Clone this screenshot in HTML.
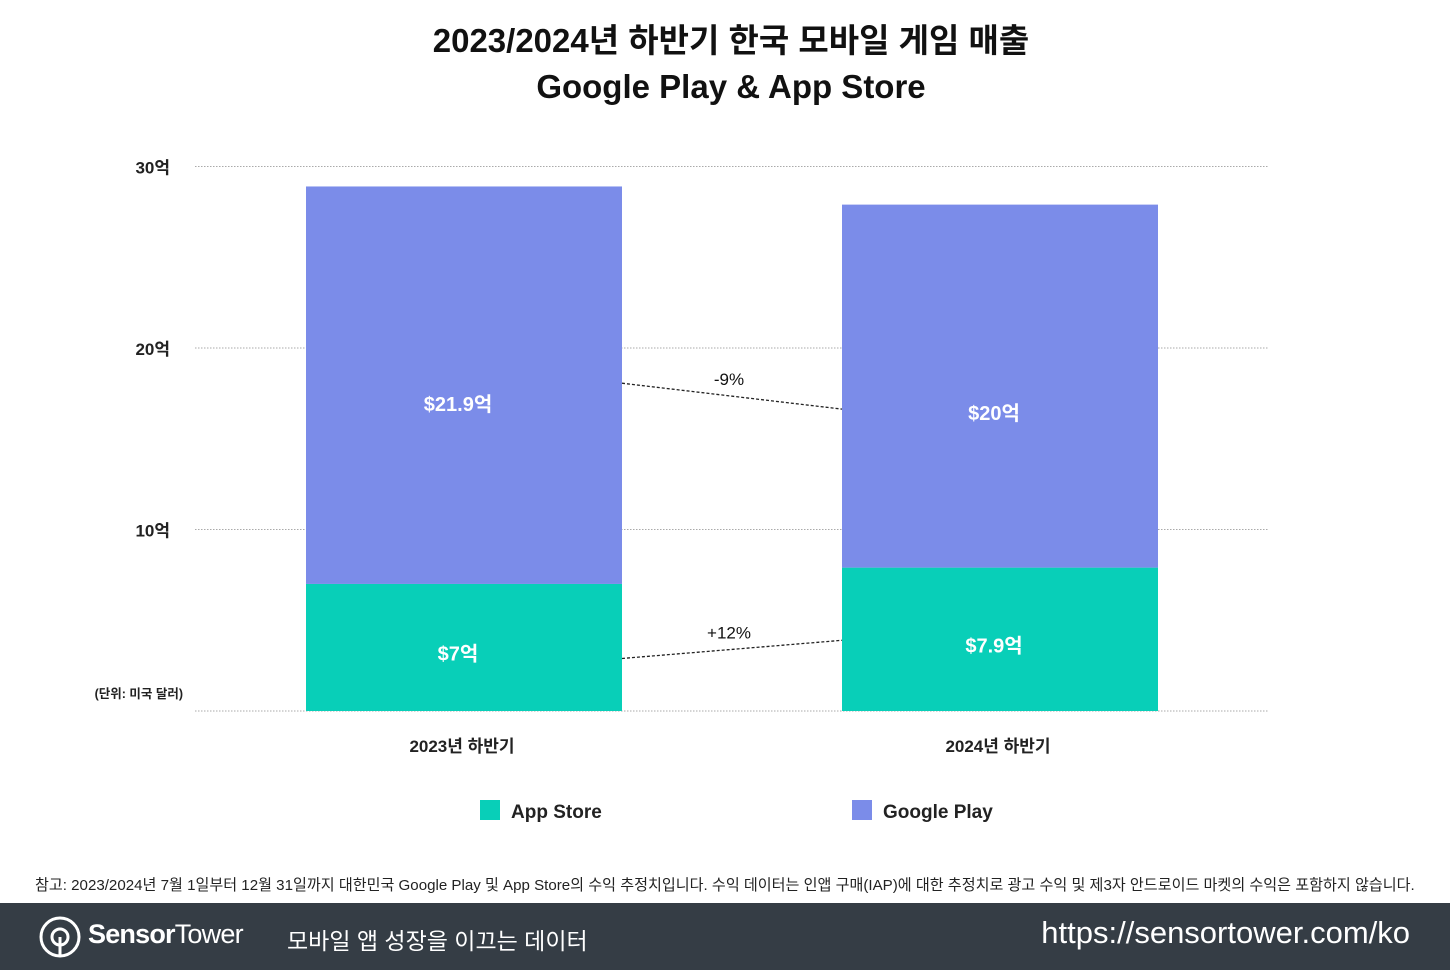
<!DOCTYPE html>
<html><head><meta charset="utf-8">
<style>
body{margin:0;width:1450px;height:970px;background:#fff;overflow:hidden;font-family:"Liberation Sans","Noto Sans CJK KR",sans-serif;}
#wrap{position:relative;width:1450px;height:970px;}
.t{position:absolute;white-space:nowrap;}
</style></head><body>
<div id="wrap">
<div class="t" style="left:0;width:1462px;text-align:center;top:18px;font-size:33px;font-weight:bold;line-height:46px;color:#111;">2023/2024년 하반기 한국 모바일 게임 매출<br>Google Play &amp; App Store</div>
<svg id="chart" width="1450" height="860" style="position:absolute;left:0;top:0"></svg>
<div class="t" style="left:35px;top:873px;font-size:15.1px;color:#222;">참고: 2023/2024년 7월 1일부터 12월 31일까지 대한민국 Google Play 및 App Store의 수익 추정치입니다. 수익 데이터는 인앱 구매(IAP)에 대한 추정치로 광고 수익 및 제3자 안드로이드 마켓의 수익은 포함하지 않습니다.</div>
<div style="position:absolute;left:0;top:903px;width:1450px;height:67px;background:#353d45;">
<svg width="44" height="44" style="position:absolute;left:38px;top:12px"><circle cx="22" cy="22" r="19" fill="none" stroke="#fff" stroke-width="3"/><circle cx="22" cy="22" r="8" fill="none" stroke="#fff" stroke-width="3"/><line x1="22" y1="22" x2="22" y2="41" stroke="#fff" stroke-width="3"/></svg>
<div class="t" style="left:88px;top:16px;font-size:27px;color:#fff;letter-spacing:-0.8px;"><b>Sensor</b>Tower</div>
<div class="t" style="left:287px;top:19px;font-size:23px;color:#fff;">모바일 앱 성장을 이끄는 데이터</div>
<div class="t" style="left:1030px;width:380px;text-align:right;top:12px;font-size:31px;color:#fff;">https://sensortower.com/ko</div>
</div>
</div>
<script>
const categories=["2023년 하반기","2024년 하반기"];
const appStore=[7,7.9];
const googlePlay=[21.9,20];
const appLabels=["$7억","$7.9억"];
const gpLabels=["$21.9억","$20억"];
const changes=["+12%","-9%"];
const ticks=[10,20,30];
const tickLabels=["10억","20억","30억"];
const NS="http://www.w3.org/2000/svg";
const svg=document.getElementById('chart');
const y0=711,pxPer=18.15;
const y=v=>y0-v*pxPer;
const bx=[306,842],bw=316;
function mk(t,a){const e=document.createElementNS(NS,t);for(const k in a)e.setAttribute(k,a[k]);svg.appendChild(e);return e;}
function txt(s,a){const e=mk('text',a);e.textContent=s;return e;}
ticks.concat([0]).forEach((v,i)=>{
 const l=mk('line',{x1:195,x2:1268,y1:y(v),y2:y(v),stroke:'#aaa','stroke-dasharray':'1.5,1.5','stroke-width':1});
 
});
ticks.forEach((v,i)=>{
 const t=txt(tickLabels[i],{x:170,y:y(v)+7,'text-anchor':'end','font-size':17,'font-weight':'bold',fill:'#222'});
 
});
const u=txt('(단위: 미국 달러)',{x:183,y:698,'text-anchor':'end','font-size':12.5,'font-weight':'bold',fill:'#222'});

const gpLabelY=[],appLabelY=[];
categories.forEach((c,i)=>{
 const a=mk('rect',{x:bx[i],width:bw,y:y(appStore[i]),height:appStore[i]*pxPer,fill:'#08cfb8'});
 
 const g=mk('rect',{x:bx[i],width:bw,y:y(appStore[i]+googlePlay[i]),height:googlePlay[i]*pxPer,fill:'#7b8ce9'});
 
 const cx=bx[i]+bw/2-6;
 appLabelY[i]=y(appStore[i]/2)+6;
 gpLabelY[i]=y(appStore[i]+googlePlay[i]/2)+(i===0?19:27);
 const la=txt(appLabels[i],{x:cx,y:appLabelY[i]+7,'text-anchor':'middle','font-size':20,'font-weight':'bold',fill:'#fff'});
 
 const lg=txt(gpLabels[i],{x:cx,y:gpLabelY[i]+7,'text-anchor':'middle','font-size':20,'font-weight':'bold',fill:'#fff'});
 
 const xl=txt(c,{x:bx[i]+bw/2-2,y:752,'text-anchor':'middle','font-size':17,'font-weight':'bold',fill:'#222'});
 
});
// change connectors
[[appLabelY,changes[0],[5,-5]],[gpLabelY,changes[1],[-21,-4]]].forEach(([ly,lab,off])=>{
 const ya=ly[0]+off[0], yb=ly[1]+off[1];
 const x1=bx[0]+bw,x2=bx[1];
 const l=mk('line',{x1:x1,y1:ya,x2:x2,y2:yb,stroke:'#222','stroke-dasharray':'3,2','stroke-width':1.3});
 
 const t=txt(lab,{x:(x1+x2)/2-3,y:(ya+yb)/2-11,'text-anchor':'middle','font-size':17,fill:'#111'});
 
});
// legend
[["App Store",'#08cfb8',480],["Google Play",'#7b8ce9',852]].forEach(([n,c,x])=>{
 const r=mk('rect',{x:x,y:800,width:20,height:20,fill:c});
 
 const t=txt(n,{x:x+31,y:818,'font-size':19,'font-weight':'bold',fill:'#222'});
 
});
</script>
</body></html>
